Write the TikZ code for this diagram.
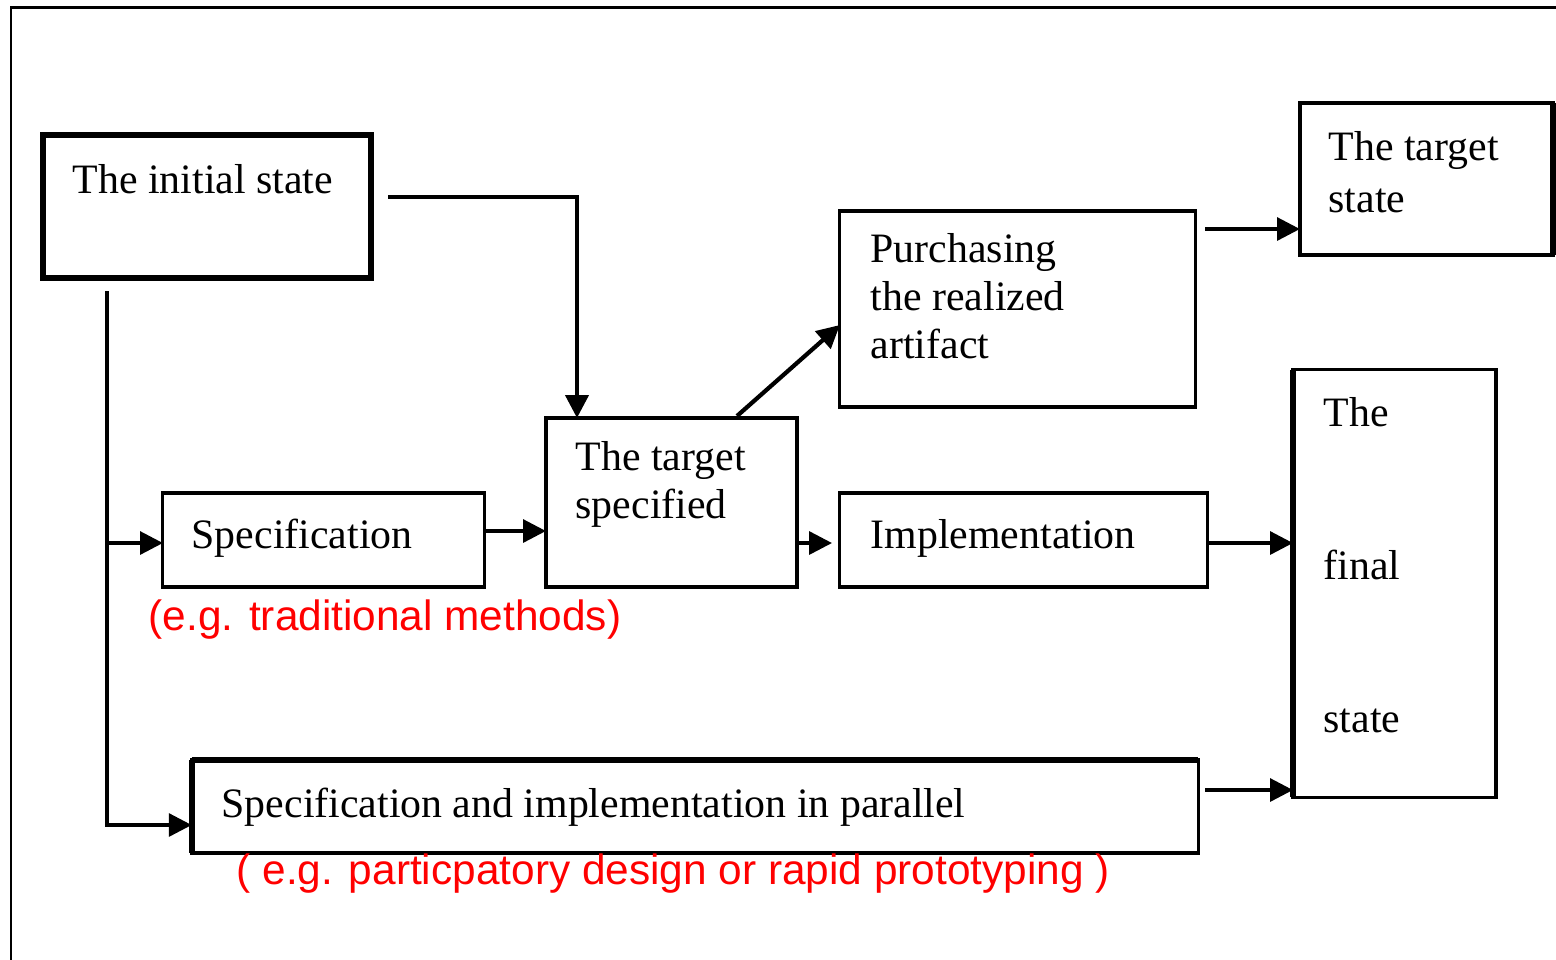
\documentclass[tikz,border=0pt]{standalone}
\usepackage{fontspec}
\setmainfont{Liberation Serif}
\newfontfamily\arialfont{Liberation Sans}
\usetikzlibrary{arrows.meta}
\begin{document}
\begin{tikzpicture}[x=0.01cm,y=-0.01cm,
  box/.style={draw, line width=0.9pt, inner sep=0pt, outer sep=0pt},
  thickbox/.style={box, line width=1.5pt},
  txt/.style={font=\fontsize{11.9}{14}\selectfont, anchor=base west, inner sep=0pt},
  redtxt/.style={font=\arialfont\fontsize{12.05}{14}\selectfont, text=red, anchor=base west, inner sep=0pt},
  conn/.style={line width=1pt},
  arr/.style={conn, -{Triangle[length=6.5pt,width=6.5pt]}},
  heavy/.style={line width=1.6pt}
]
\useasboundingbox (0,0) rectangle (1556,959);
% outer frame
\draw[line width=0.85pt] (11,970) -- (11,7) -- (1570,7);

% boxes
\node[thickbox, minimum width=3.28cm, minimum height=1.43cm] (init) at (207,206.5) {};
\node[box, minimum width=3.21cm, minimum height=0.94cm] (spec) at (323.5,540) {};
\node[box, minimum width=2.51cm, minimum height=1.69cm] (tgt) at (671.5,502.5) {};
\node[box, minimum width=3.55cm, minimum height=1.96cm] (purch) at (1017.5,309) {};
\node[box, minimum width=3.67cm, minimum height=0.94cm] (impl) at (1023.5,540) {};
\node[box, minimum width=10.06cm, minimum height=0.93cm] (par) at (695,806.5) {};
\node[box, minimum width=2.53cm, minimum height=1.52cm] (tstate) at (1426.5,179) {};
\node[box, minimum width=2.03cm, minimum height=4.27cm] (final) at (1394.5,583.5) {};

% heavier sides
\draw[heavy] (tstate.north east) -- (tstate.south east);
\draw[heavy] (final.north west) -- (final.south west);
\draw[heavy] (par.north west) -- (par.north east);
\draw[heavy] (par.north west) -- (par.south west);

% texts
\node[txt] (tinit) at (72,193) {The initial state};
\node[txt] (tspec) at (191,548) {Specification};
\node[txt] (ttgt1) at (575,470) {The target};
\node[txt] (ttgt2) at (575,518) {specified};
\node[txt] (tp1) at (870,262) {Purchasing};
\node[txt] (tp2) at (870,310) {the realized};
\node[txt] (tp3) at (870,358) {artifact};
\node[txt] (timpl) at (870,548) {Implementation};
\node[txt] (tpar) at (221,817) {Specification and implementation in parallel};
\node[txt] (tts1) at (1328,160) {The target};
\node[txt] (tts2) at (1328,212) {state};
\node[txt] (tf1) at (1323,426) {The};
\node[txt] (tf2) at (1323,579) {final};
\node[txt] (tf3) at (1323,732) {state};
\node[redtxt] (r1) at (148,630) {(e.g. traditional methods)};
\node[redtxt] (r2) at (236,884) {( e.g. particpatory design or rapid prototyping )};

% coordinates
\coordinate (s1) at (388,197);
\coordinate (x577) at (577,0);
\coordinate (d1) at (737,416);
\coordinate (r325) at (0,325);
\coordinate (r531) at (0,531);
\coordinate (e543) at (832,543);
\coordinate (p1) at (1205,229);
\coordinate (p2) at (1207,543);
\coordinate (p3) at (1205,790);
\coordinate (t0) at (107,291);
\coordinate (t1) at (107,543);
\coordinate (t2) at (107,825);

% connectors
\draw[arr, line width=1.2pt] (s1) -| (tgt.north -| x577);
\draw[arr, line width=1.2pt] (d1) -- (purch.west |- r325);
\draw[arr] (spec.east |- r531) -- (tgt.west |- r531);
\draw[arr] (tgt.east |- e543) -- (e543);
\draw[arr] (p1) -- (tstate.west |- p1);
\draw[arr] (p2) -- (final.west |- p2);
\draw[arr] (p3) -- (final.west |- p3);
\draw[arr] (t0) |- (par.west |- t2);
\draw[arr] (t1) -- (spec.west |- t1);
\end{tikzpicture}
\end{document}
